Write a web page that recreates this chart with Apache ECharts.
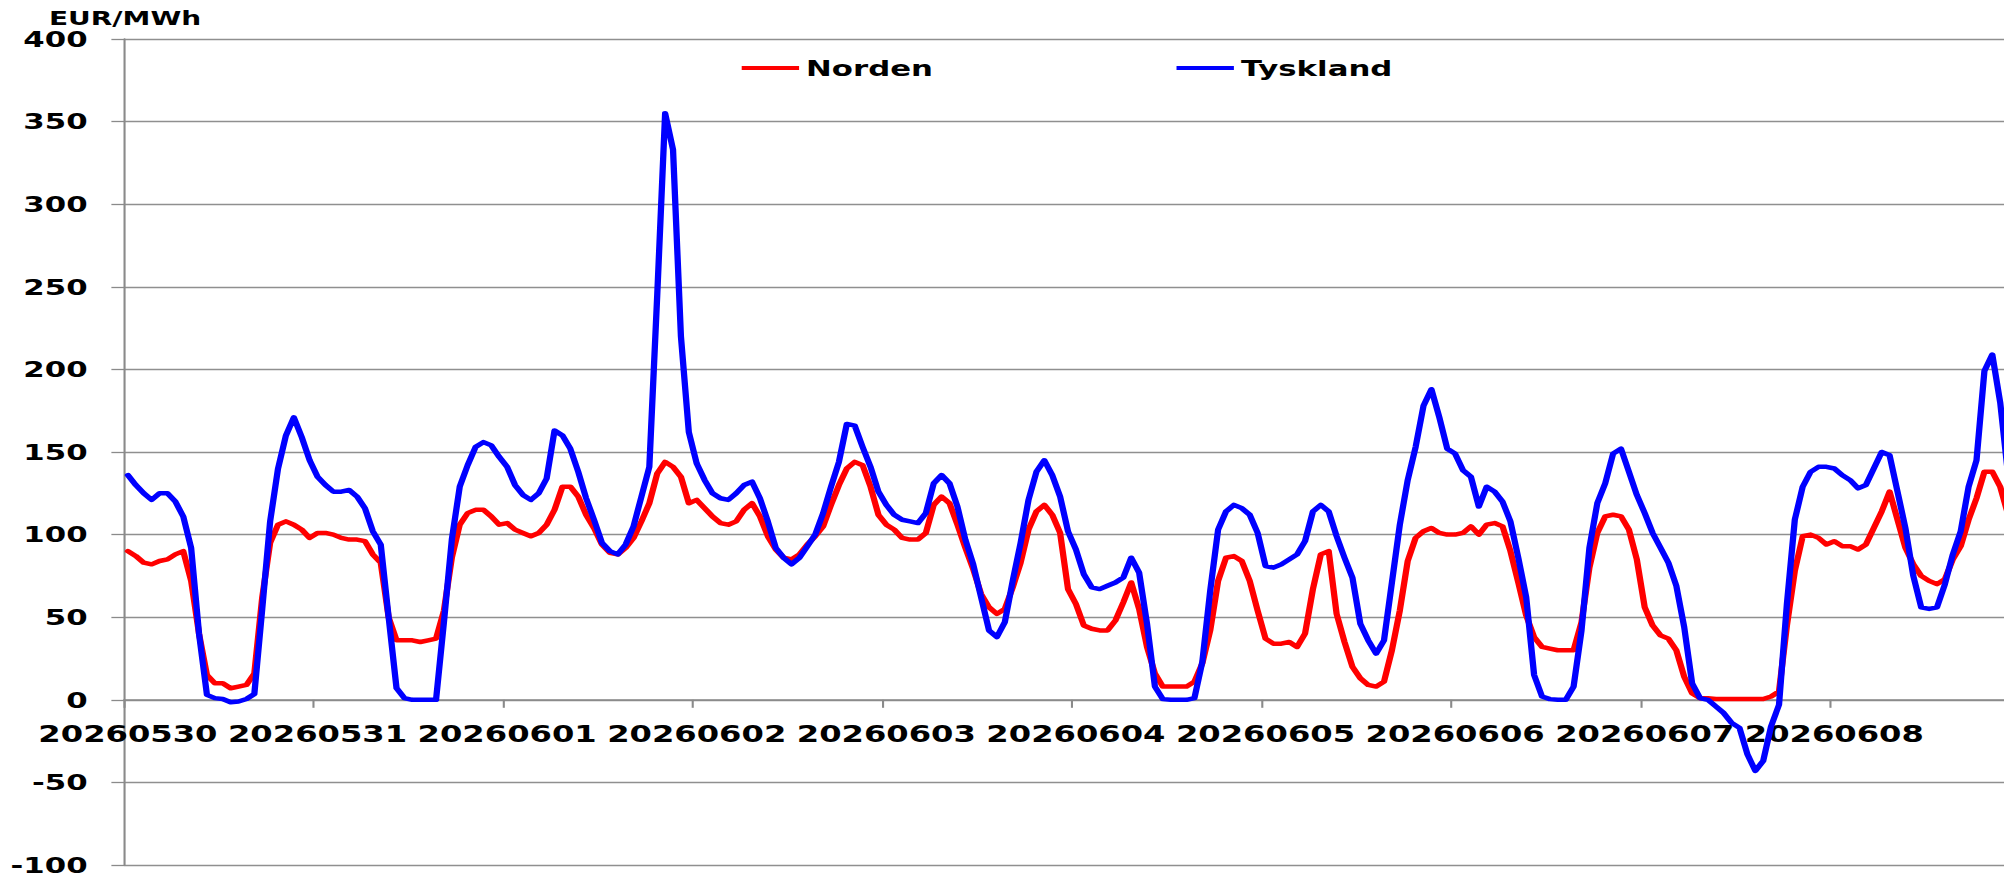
<!DOCTYPE html>
<html><head><meta charset="utf-8">
<script src="https://cdn.jsdelivr.net/npm/echarts@6/dist/echarts.min.js"></script>
<style>
html,body{margin:0;padding:0;background:#fff;overflow:hidden}
#wrap{width:2004px;height:877px;overflow:hidden;position:relative;background:#fff}
#chart{position:absolute;left:0;top:0;width:1432px;height:877px;transform:scaleX(1.39944);transform-origin:0 0}
</style></head>
<body><div id="wrap"><div id="chart"></div></div>
<script>
// ---- data ----
const days = ['20260530','20260531','20260601','20260602','20260603','20260604','20260605','20260606','20260607','20260608'];
const yMin = -100, yMax = 400, yStep = 50;
const seriesNames = ['Norden', 'Tyskland'];

const norden = [
  90, 87, 83, 82, 84, 85, 88, 90, 72, 40, 15, 10, 10, 7, 8, 9, 16, 62, 95, 106, 108, 106, 103, 98,
  101, 101, 100, 98, 97, 97, 96, 88, 83, 50, 36, 36, 36, 35, 36, 37, 54, 86, 106, 113, 115, 115, 111, 106,
  107, 103, 101, 99, 101, 106, 115, 129, 129, 123, 112, 104, 94, 89, 88, 92, 98, 108, 119, 137, 144, 141, 135, 119,
  121, 116, 111, 107, 106, 108, 115, 119, 111, 99, 91, 86, 85, 88, 94, 99, 105, 118, 130, 140, 144, 142, 129, 112,
  106, 103, 98, 97, 97, 101, 118, 123, 119, 106, 92, 79, 64, 56, 52, 55, 68, 83, 103, 114, 118, 112, 101, 67,
  58, 45, 43, 42, 42, 48, 59, 71, 55, 32, 16, 8, 8, 8, 8, 11, 22, 42, 72, 86, 87, 84, 72, 54,
  37, 34, 34, 35, 32, 40, 67, 88, 90, 52, 35, 20, 13, 9, 8, 11, 30, 54, 84, 98, 102, 104, 101, 100,
  100, 101, 105, 100, 106, 107, 105, 90, 71, 51, 38, 32, 31, 30, 30, 30, 47, 80, 101, 111, 112, 111, 103, 85,
  56, 45, 39, 37, 30, 14, 4, 1, 1, 0.5, 0.5, 0.5, 0.5, 0.5, 0.5, 0.5, 2, 5, 45, 78, 99, 100, 98, 94,
  96, 93, 93, 91, 94, 104, 114, 126, 109, 92, 82, 75, 72, 70, 73, 85, 93, 109, 122, 138, 138, 129, 112
];

const tyskland = [
  136, 130, 125, 121, 125, 125, 120, 111, 92, 40, 3, 1, 0.5, -1.5, -1, 0.5, 3.5, 55, 108, 140, 160, 171, 159, 145,
  135, 130, 126, 126, 127, 123, 116, 102, 94, 50, 7, 1, 0, 0, 0, 0, 47, 97, 129, 142, 153, 156, 154, 147,
  141, 130, 124, 121, 125, 134, 163, 160, 152, 138, 122, 109, 95, 90, 88, 94, 105, 123, 141, 245, 355, 333, 220, 162,
  143, 133, 125, 122, 121, 125, 130, 132, 122, 108, 92, 86, 82, 86, 93, 100, 113, 129, 144, 167, 166, 153, 141, 126,
  118, 112, 109, 108, 107, 113, 131, 136, 131, 117, 97, 82, 62, 42, 38, 47, 72, 95, 121, 138, 145, 136, 123, 102,
  91, 76, 68, 67, 69, 71, 74, 86, 77, 46, 8, 0.4, 0, 0, 0, 1, 23, 66, 103, 114, 118, 116, 112, 101,
  81, 80, 82, 85, 88, 96, 114, 118, 114, 99, 86, 74, 46, 36, 28, 36, 71, 106, 133, 153, 178, 188, 171, 152,
  149, 139, 135, 117, 129, 126, 120, 108, 86, 62, 15, 2, 0.4, 0, 0, 8, 42, 92, 119, 131, 149, 152, 138, 124,
  113, 101, 92, 83, 69, 44, 10, 1, 0, -4, -8, -14, -17, -33, -43, -37, -16, -3, 58, 109, 129, 138, 141, 141,
  140, 136, 133, 128, 130, 140, 150, 148, 126, 104, 75, 56, 55, 56, 70, 88, 102, 129, 145, 199, 209, 180, 136
];

// hourly categories built from the day list
const categories = [];
days.forEach(function (d) {
  for (let h = 0; h < 24; h++) categories.push(d + ' ' + String(h).padStart(2, '0'));
});

const FONT = 'DejaVu Sans';
const GRID_TOP = 39, GRID_H = 826;
// distance from the grid bottom up to the zero line, so the category axis sits at y = 0
const zeroOffset = GRID_H * (0 - yMin) / (yMax - yMin);

const chart = echarts.init(document.getElementById('chart'), null, {renderer: 'svg'});
chart.setOption({
  animation: false,
  backgroundColor: '#ffffff',
  textStyle: {fontFamily: FONT},
  title: {
    text: 'EUR/MWh', left: 35, top: 8, padding: 0,
    textStyle: {fontFamily: FONT, fontSize: 20, fontWeight: 'bold', color: '#000'}
  },
  legend: {
    data: seriesNames, left: 530, top: 57, icon: 'rect', padding: 0,
    itemWidth: 41, itemHeight: 4, itemGap: 174,
    textStyle: {fontFamily: FONT, fontSize: 22, fontWeight: 'bold', color: '#000'}
  },
  grid: {left: 88.6, top: GRID_TOP, width: 1354.8, height: GRID_H, outerBoundsMode: 'none', containLabel: false},
  xAxis: {
    type: 'category', data: categories, boundaryGap: true, position: 'bottom',
    offset: -zeroOffset,
    axisLine: {show: true, onZero: false, lineStyle: {color: '#8a8a8a', width: 1.5}},
    axisTick: {show: true, interval: 23, length: 8, lineStyle: {color: '#8a8a8a', width: 1.5}},
    axisLabel: {
      interval: 23, margin: 23, fontFamily: FONT, fontSize: 23, fontWeight: 'bold', color: '#000',
      formatter: function (v) { return v.slice(0, 8); }
    },
    splitLine: {show: false}
  },
  yAxis: {
    type: 'value', min: yMin, max: yMax, interval: yStep,
    axisLine: {show: true, lineStyle: {color: '#8a8a8a', width: 1.5}},
    axisTick: {show: true, length: 9, lineStyle: {color: '#8a8a8a', width: 1.3}},
    axisLabel: {margin: 26, fontFamily: FONT, fontSize: 22, fontWeight: 'bold', color: '#000'},
    splitLine: {show: true, lineStyle: {color: '#8f8f8f', width: 1.3}}
  },
  series: [
    {
      name: seriesNames[0], type: 'line', data: norden, symbol: 'none', smooth: false,
      color: '#ff0000',
      lineStyle: {color: '#ff0000', width: 4.5, cap: 'round', join: 'round'},
      emphasis: {disabled: true}
    },
    {
      name: seriesNames[1], type: 'line', data: tyskland, symbol: 'none', smooth: false,
      color: '#0000ff',
      lineStyle: {color: '#0000ff', width: 4.5, cap: 'round', join: 'round'},
      emphasis: {disabled: true}
    }
  ]
});
</script>
</body></html>
